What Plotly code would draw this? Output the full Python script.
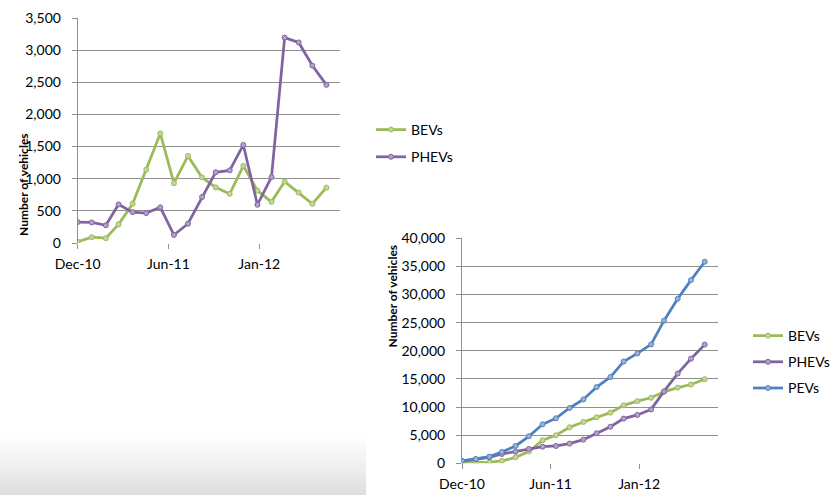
import plotly.graph_objects as go

months = ["2010-12-01", "2011-01-01", "2011-02-01", "2011-03-01", "2011-04-01",
          "2011-05-01", "2011-06-01", "2011-07-01", "2011-08-01", "2011-09-01",
          "2011-10-01", "2011-11-01", "2011-12-01", "2012-01-01", "2012-02-01",
          "2012-03-01", "2012-04-01", "2012-05-01", "2012-06-01"]

# Monthly sales (top chart)
bev_monthly = [19, 90, 75, 290, 610, 1140, 1705, 930, 1355, 1020, 865, 765,
               1200, 815, 640, 955, 785, 610, 860]
phev_monthly = [325, 320, 275, 600, 480, 465, 555, 125, 300, 715, 1100, 1130,
                1525, 595, 1025, 3195, 3120, 2760, 2460]

# Cumulative sales (bottom chart)
bev_cum = [120, 180, 190, 420, 1060, 2100, 4100, 4980, 6400, 7350, 8180, 9000,
           10300, 11050, 11650, 12700, 13450, 14000, 14950]
phev_cum = [400, 710, 1050, 1650, 2070, 2550, 2960, 3080, 3500, 4200, 5350,
            6500, 7950, 8600, 9580, 12790, 15950, 18600, 21100]
pev_cum = [420, 770, 1190, 2010, 3080, 4800, 6930, 8000, 9830, 11350, 13550,
           15330, 18100, 19540, 21140, 25350, 29250, 32570, 35830]

GREEN = "#9BBB59"
PURPLE = "#8064A2"
BLUE = "#4F81BD"
LIGHT = {GREEN: "#C3D69B", PURPLE: "#B3A2C7", BLUE: "#95B3D7"}

FONT = "Lato"
GRID = "#8f8f8f"

fig = go.Figure()


def add_line(x, y, name, color, xa, ya, legend, group):
    fig.add_trace(go.Scatter(
        x=x, y=y, name=name, mode="lines+markers",
        line=dict(color=color, width=2.75),
        marker=dict(symbol="circle", size=5, color=LIGHT[color],
                    line=dict(color=color, width=1)),
        xaxis=xa, yaxis=ya, legend=legend, legendgroup=group,
    ))


add_line(months, bev_monthly, "BEVs", GREEN, "x", "y", "legend", "a1")
add_line(months, phev_monthly, "PHEVs", PURPLE, "x", "y", "legend", "a2")
add_line(months, bev_cum, "BEVs", GREEN, "x2", "y2", "legend2", "b1")
add_line(months, phev_cum, "PHEVs", PURPLE, "x2", "y2", "legend2", "b2")
add_line(months, pev_cum, "PEVs", BLUE, "x2", "y2", "legend2", "b3")

W, H = 830, 495

xcommon = dict(
    type="date", range=["2010-12-01", "2012-07-01"],
    tick0="2010-12-01", dtick=200 * 86400000, tickformat="%b-%y",
    showgrid=False, zeroline=False, showline=False,
    ticks="outside", ticklen=5, tickcolor=GRID,
    tickfont=dict(family=FONT, size=14, color="#000"),
    ticklabelstandoff=3,
)
ycommon = dict(
    tickformat=",d", showgrid=True, gridcolor=GRID, gridwidth=1,
    zeroline=False, showline=True, linecolor=GRID, linewidth=1,
    ticks="outside", ticklen=5, tickcolor=GRID,
    tickfont=dict(family=FONT, size=14, color="#000"),
    ticklabelstandoff=8,
)

# Gradient band (bottom-left background)
shapes = []
n = 20
y0p, y1p = 433, 495
for i in range(n):
    ya = y0p + (y1p - y0p) * i / n
    yb = y0p + (y1p - y0p) * (i + 1) / n
    g = int(255 - (255 - 222) * ((i + 1) / n) ** 1.3)
    shapes.append(dict(type="rect", xref="paper", yref="paper", layer="below",
                       x0=0, x1=366 / W, y0=1 - yb / H - 0.001, y1=1 - ya / H,
                       fillcolor=f"rgb({g},{g},{g})", line=dict(width=0)))

fig.update_layout(
    width=W, height=H,
    margin=dict(l=0, r=0, t=0, b=0, autoexpand=False),
    paper_bgcolor="white", plot_bgcolor="rgba(0,0,0,0)",
    showlegend=True,
    xaxis=dict(domain=[77.7 / W, 340 / W], anchor="y", **xcommon),
    yaxis=dict(domain=[1 - 243 / H, 1 - 18 / H], range=[0, 3500], dtick=500,
               anchor="x", **ycommon),
    xaxis2=dict(domain=[462 / W, 718 / W], anchor="y2", **xcommon),
    yaxis2=dict(domain=[1 - 463.3 / H, 1 - 238.3 / H], range=[0, 40000],
                dtick=5000, anchor="x2", **ycommon),
    legend=dict(x=371 / W, y=1 - 114 / H, xanchor="left", yanchor="top",
                font=dict(family=FONT, size=14, color="#000"),
                bgcolor="rgba(0,0,0,0)", tracegroupgap=6, itemwidth=30),
    legend2=dict(x=748 / W, y=1 - 320 / H, xanchor="left", yanchor="top",
                 font=dict(family=FONT, size=14, color="#000"),
                 bgcolor="rgba(0,0,0,0)", tracegroupgap=5, itemwidth=30),
    shapes=shapes,
    annotations=[
        dict(text="<b>Number of vehicles</b>", textangle=-90, xref="paper",
             yref="paper", x=14 / W, y=1 - 131 / H, showarrow=False,
             font=dict(family=FONT, size=12, color="#000")),
        dict(text="<b>Number of vehicles</b>", textangle=-90, xref="paper",
             yref="paper", x=392 / W, y=1 - 350 / H, showarrow=False,
             font=dict(family=FONT, size=12, color="#000")),
    ],
)

fig.write_html("out.html")
